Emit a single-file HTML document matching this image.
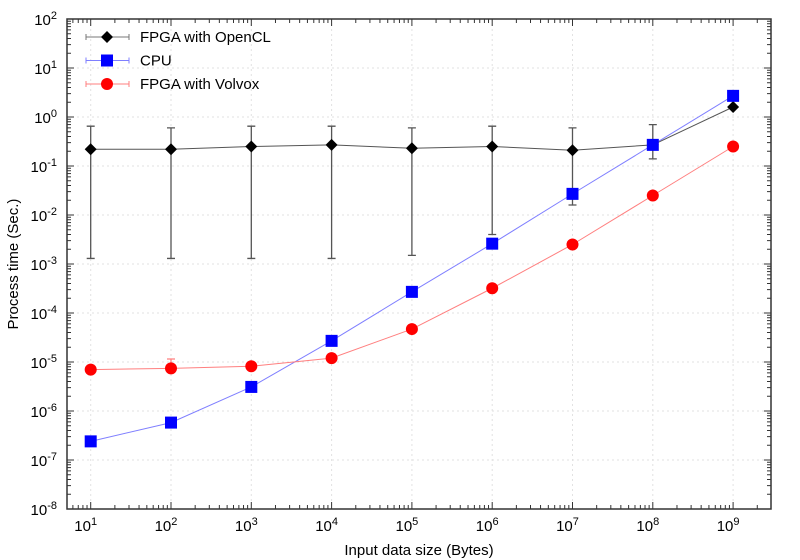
<!DOCTYPE html>
<html><head><meta charset="utf-8"><style>
body{margin:0;background:#fff;}
svg{display:block;font-family:"Liberation Sans",sans-serif;}
</style></head><body>
<svg id="chart" width="800" height="560"></svg>
<script>
const categories=[1,2,3,4,5,6,7,8,9];
const openclVals=[0.22,0.22,0.25,0.27,0.23,0.25,0.21,0.27,1.6];
const openclLow=[1.3e-3,1.3e-3,1.3e-3,1.3e-3,1.5e-3,4e-3,1.6e-2,1.4e-1,null];
const openclHigh=[0.65,0.6,0.65,0.65,0.6,0.65,0.6,0.7,null];
const cpuVals=[2.4e-7,5.8e-7,3.1e-6,2.7e-5,2.7e-4,2.6e-3,2.7e-2,2.7e-1,2.7];
const volvoxVals=[7e-6,7.4e-6,8.2e-6,1.2e-5,4.7e-5,3.2e-4,2.5e-3,2.5e-2,0.25];
const volvoxLow=[null,null,null,null,null,null,null,null,null];
const volvoxHigh=[null,1.15e-5,null,null,null,null,null,null,null];
const xTickExps=[1,2,3,4,5,6,7,8,9];
const yTickExps=[2,1,0,-1,-2,-3,-4,-5,-6,-7,-8];

const L=67,R=771,T=19,B=509;
const xs=e=>90.7+(e-1)*80.3;
const ys=v=>T+(2-Math.log10(v))*49;
const yE=e=>T+(2-e)*49;
const svg=document.getElementById('chart');
const NS='http://www.w3.org/2000/svg';
function mk(t,a,p){const el=document.createElementNS(NS,t);for(const k in a)el.setAttribute(k,a[k]);(p||svg).appendChild(el);return el;}

for(const e of xTickExps){const g=mk('line',{x1:xs(e),x2:xs(e),y1:T,y2:B,stroke:'#e2e2e2','stroke-dasharray':'2,3'});

}
for(const e of yTickExps){const g=mk('line',{x1:L,x2:R,y1:yE(e),y2:yE(e),stroke:'#e2e2e2','stroke-dasharray':'2,3'});

}

const xMinE=1+(L-90.7)/80.3, xMaxE=1+(R-90.7)/80.3;
for(let d=0;d<=10;d++){for(let m=1;m<10;m++){const e=d+Math.log10(m);if(e<xMinE||e>xMaxE)continue;const len=m==1?7:4;const x=xs(e);
mk('line',{x1:x,x2:x,y1:B,y2:B-len,stroke:'#333'});mk('line',{x1:x,x2:x,y1:T,y2:T+len,stroke:'#333'});}}
for(let d=-8;d<2;d++){for(let m=1;m<10;m++){const e=d+Math.log10(m);const len=m==1?7:4;const y=yE(e);
mk('line',{x1:L,x2:L+len,y1:y,y2:y,stroke:'#333'});mk('line',{x1:R,x2:R-len,y1:y,y2:y,stroke:'#333'});}}

const fr=mk('rect',{x:L,y:T,width:R-L,height:B-T,fill:'none',stroke:'#333','stroke-width':1.5});



for(const e of xTickExps){const t=mk('text',{x:xs(e)-5,y:B+22,'font-size':15,'text-anchor':'middle'});


t.innerHTML='10<tspan dy="-6" font-size="11">'+e+'</tspan>';}
for(const e of yTickExps){const t=mk('text',{x:L-10,y:yE(e)+6,'font-size':15,'text-anchor':'end'});


t.innerHTML='10<tspan dy="-6" font-size="11">'+e+'</tspan>';}

function series(vals,low,high,color,lineColor,marker,name){
const pts=categories.map((c,i)=>xs(c)+','+ys(vals[i])).join(' ');
const pl=mk('polyline',{points:pts,fill:'none',stroke:lineColor,'stroke-width':1});


categories.forEach((c,i)=>{const x=xs(c);
if(low[i]!=null||high[i]!=null){const lo=low[i]!=null?low[i]:vals[i],hi=high[i]!=null?high[i]:vals[i];
const eb=mk('path',{d:`M${x},${ys(lo)}V${ys(hi)}M${x-4},${ys(lo)}h8M${x-4},${ys(hi)}h8`,stroke:lineColor,fill:'none','stroke-width':1.3});

}
const y=ys(vals[i]);let m;
if(marker=='d')m=mk('path',{d:`M${x},${y-6}L${x+6},${y}L${x},${y+6}L${x-6},${y}Z`,fill:color});
else if(marker=='s')m=mk('rect',{x:x-6,y:y-6,width:12,height:12,fill:color});
else m=mk('circle',{cx:x,cy:y,r:6,fill:color});

});}
series(openclVals,openclLow,openclHigh,'#000','#555','d','opencl');
series(cpuVals,[],[],'#0000ff','#7f7fff','s','cpu');
series(volvoxVals,volvoxLow,volvoxHigh,'#ff0000','#ff7f7f','c','volvox');

const leg=[['FPGA with OpenCL','#000','#777','d'],['CPU','#0000ff','#7f7fff','s'],['FPGA with Volvox','#ff0000','#ff7f7f','c']];
leg.forEach((l,i)=>{const y=37+i*23.5,x=107;
const g=mk('g',{});


mk('path',{d:`M86,${y}H129M86,${y-3}v6M129,${y-3}v6`,stroke:l[2],fill:'none'},g);
if(l[3]=='d')mk('path',{d:`M${x},${y-6}L${x+6},${y}L${x},${y+6}L${x-6},${y}Z`,fill:l[1]},g);
else if(l[3]=='s')mk('rect',{x:x-6,y:y-6,width:12,height:12,fill:l[1]},g);
else mk('circle',{cx:x,cy:y,r:6,fill:l[1]},g);
const t=mk('text',{x:140,y:y+5,'font-size':15},g);t.textContent=l[0];});

const xt=mk('text',{x:419,y:555,'font-size':15,'text-anchor':'middle'});xt.textContent='Input data size (Bytes)';


const yt=mk('text',{x:0,y:0,'font-size':15,'text-anchor':'middle',transform:`translate(18,${(T+B)/2}) rotate(-90)`});yt.textContent='Process time (Sec.)';


</script>
</body></html>
